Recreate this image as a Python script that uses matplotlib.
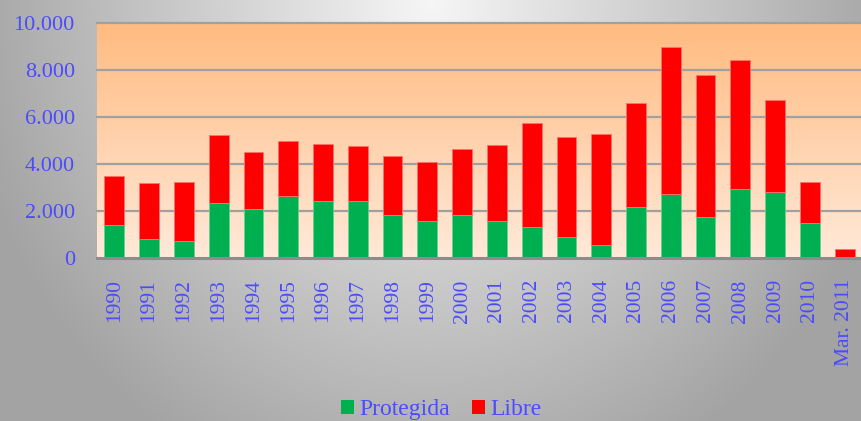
import numpy as np
import matplotlib
matplotlib.use("Agg")
import matplotlib.pyplot as plt
from matplotlib.patches import Patch

plt.rcParams['font.family'] = ['Liberation Serif', 'DejaVu Serif']

# values
years = ['1990', '1991', '1992', '1993', '1994', '1995', '1996', '1997',
         '1998', '1999', '2000', '2001', '2002', '2003', '2004', '2005',
         '2006', '2007', '2008', '2009', '2010', 'Mar. 2011']
protegida = [1400, 810, 750, 2350, 2100, 2650, 2430, 2430, 1830, 1570,
             1830, 1570, 1320, 890, 550, 2170, 2740, 1760, 2940, 2820,
             1500, 0]
total = [3520, 3220, 3260, 5260, 4520, 4990, 4880, 4780, 4370, 4110,
         4640, 4830, 5770, 5160, 5300, 6600, 9000, 7800, 8450, 6740,
         3260, 400]
libre = [t - p for t, p in zip(total, protegida)]

yticks = [0, 2000, 4000, 6000, 8000, 10000]
ytick_labels = ['0', '2.000', '4.000', '6.000', '8.000', '10.000']

blue = '#4b4bff'
green = '#00b050'
red = '#ff0000'

W, H = 862, 421
fig = plt.figure(figsize=(W / 100, H / 100), dpi=100)

# figure background: grey gradient, light at top centre
bg = fig.add_axes([0, 0, 1, 1], zorder=0)
gx, gy = np.meshgrid(np.linspace(0, 1, 300), np.linspace(0, 1, 150))
d = np.sqrt(((gx - 0.5) / 0.55) ** 2 + ((gy - 1.0) / 1.25) ** 2)
d = np.clip(d, 0, 1)
light, dark = 0.965, 0.64
grey = light + (dark - light) * d
img = np.dstack([grey, grey, grey])
bg.imshow(img, origin='lower', extent=[0, 1, 0, 1], aspect='auto')
bg.set_axis_off()

ax = fig.add_axes([97 / W, 1 - 258.3 / H, 1 - 97 / W, 235 / H], zorder=1)
ax.set_facecolor('none')

n = len(years)
x = np.arange(n)
ax.set_xlim(-0.5, n - 0.5)
ax.set_ylim(0, 10000)

# plot area: orange vertical gradient
t = np.linspace(0, 1, 200).reshape(-1, 1)
top = np.array([255, 187, 128]) / 255
bot = np.array([255, 233, 217]) / 255
grad = bot + (top - bot) * t
grad = np.repeat(grad[:, np.newaxis, :], 2, axis=1)
ax.imshow(grad, origin='lower', extent=[-0.5, n - 0.5, 0, 10000],
          aspect='auto', zorder=0)

for yv in yticks[1:]:
    ax.axhline(yv, color='#a0a0a0', lw=1.6, zorder=1, clip_on=False)

bw = 0.57
ax.bar(x, protegida, bw, color=green, edgecolor='#66d090', lw=0.6, zorder=2,
       label='Protegida')
ax.bar(x, libre, bw, bottom=protegida, color=red, edgecolor='#ff7070',
       lw=0.6, zorder=2, label='Libre')

for s in ['left', 'right', 'top']:
    ax.spines[s].set_visible(False)
ax.spines['bottom'].set_color('#8c8c8c')
ax.spines['bottom'].set_linewidth(2.2)
ax.spines['bottom'].set_zorder(3)

ax.set_yticks(yticks)
ax.set_yticklabels(ytick_labels, color=blue, fontsize=16)
ax.set_xticks(x)
ax.set_xticklabels(years, rotation=90, color=blue, fontsize=15.5,
                   va='top', ha='center')
ax.tick_params(axis='both', length=0)
ax.tick_params(axis='y', pad=16)
ax.tick_params(axis='x', pad=15)

handles = [Patch(facecolor=green, label='Protegida'),
           Patch(facecolor=red, label='Libre')]
fig.legend(handles=handles, loc='center', bbox_to_anchor=(0.512, 0.027),
           ncol=2, frameon=False, fontsize=17, labelcolor=blue,
           handlelength=0.55, handleheight=0.55, handletextpad=0.25,
           columnspacing=0.9)

fig.savefig('out.png', dpi=100)
